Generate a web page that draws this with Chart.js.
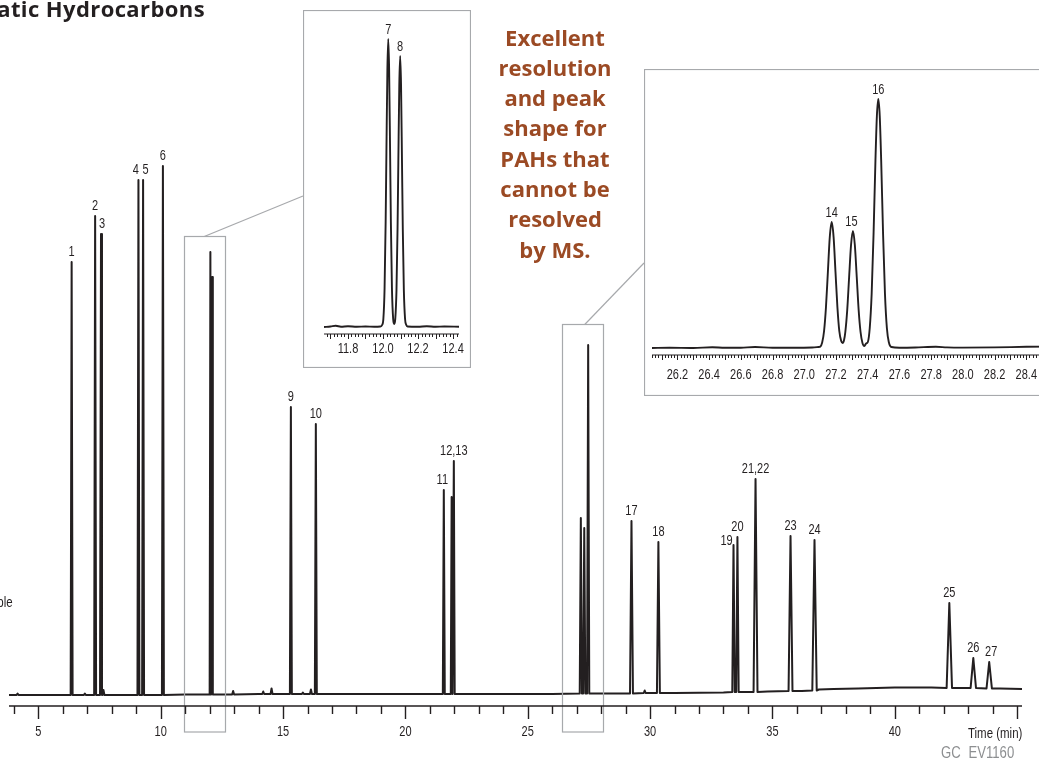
<!DOCTYPE html>
<html>
<head>
<meta charset="utf-8">
<script src="https://cdn.jsdelivr.net/npm/chart.js@4.4.0/dist/chart.umd.min.js"></script>
<style>
  html, body { margin: 0; padding: 0; background: #fff; overflow: hidden; }
  #wrap { position: relative; width: 1039px; height: 760px; overflow: hidden; }
  canvas { position: absolute; }
  #main { left: 0; top: 0; }
  #inset1 { left: 303px; top: 10px; }
  #inset2 { left: 644px; top: 69px; }
  .txt { position: absolute; white-space: nowrap; color: #231f20; }
  .narrow { font-family: "Liberation Sans", Arial, sans-serif; transform: scaleX(0.82); transform-origin: right center; }
  #title { right: 834px; top: -3px; font: 700 22px/22px "Open Sans", sans-serif; letter-spacing: 0.4px; }
  #note { left: 475px; width: 160px; top: 21.5px; text-align: center; color: #9b4a24;
          font: 700 22px/30.3px "Open Sans", sans-serif; white-space: normal; }
  #ple { right: 1026px; top: 594px; font-size: 14px; line-height: 16px; }
  #timeLabel { right: 17px; top: 725px; font-size: 14px; line-height: 16px; }
  #gc { right: 25px; top: 744px; font-size: 16px; line-height: 18px; color: #8d8f91; word-spacing: 5px; }
</style>
</head>
<body>
<div id="wrap">
  <canvas id="main" width="1039" height="760"></canvas>
  <canvas id="inset1" width="168" height="358"></canvas>
  <canvas id="inset2" width="420" height="327"></canvas>
  <div id="title" class="txt">atic Hydrocarbons</div>
  <div id="note" class="txt">Excellent<br>resolution<br>and peak<br>shape for<br>PAHs that<br>cannot be<br>resolved<br>by MS.</div>
  <div id="ple" class="txt narrow">ple</div>
  <div id="timeLabel" class="txt narrow">Time (min)</div>
  <div id="gc" class="txt narrow">GC EV1160</div>
</div>
<script>
// ---- main chromatogram: peaks (retention time in min, apex / local baseline in detector units)
const peakIds = ['1', '2', '3', '4', '5', '6', '7', '8', '9', '10', '11', '12', '13', '14', '15', '16',
                 '17', '18', '19', '20', '21,22', '23', '24', '25', '26', '27'];
const peakTimes = [6.36, 7.32, 7.56, 9.09, 9.28, 10.09, 12.03, 12.10, 15.32, 16.34, 21.57, 21.89, 21.98,
                   27.17, 27.31, 27.47, 29.24, 30.34, 33.41, 33.57, 34.31, 35.74, 36.72, 42.23, 43.21, 43.86];
const peakApex = [432, 478, 460, 514, 514, 528, 442, 417, 287, 270, 204, 197, 233,
                  176, 166, 349, 173, 152, 149, 157, 215, 158, 154, 91, 36, 32];
const peakBase = [-1, -1, -1, -1, -1, -1, -0.5, -0.5, 0, 0, 0, 0, 0,
                  0.5, 0.5, 0.5, 0.5, 1, 2, 2, 2, 3, 3.5, 6, 6, 5.5];
const peakHalfWidth = [0.04, 0.04, 0.04, 0.04, 0.04, 0.04, 0.03, 0.03, 0.04, 0.04, 0.04, 0.035, 0.035,
                       0.045, 0.045, 0.045, 0.06, 0.06, 0.05, 0.05, 0.08, 0.08, 0.09, 0.11, 0.11, 0.11];

// small unlabelled bumps
const minorTimes = [4.15, 6.9, 7.66, 12.96, 14.19, 14.53, 15.81, 16.14, 29.78];
const minorApex = [0.5, 0.5, 4, 3, 2.5, 5.5, 1.5, 4.5, 3.5];
const minorBase = [-1, -1, -1, -0.5, 0, 0, 0, 0, 1];
const minorHalfWidth = 0.04;

// baseline drift
const baselineTimes = [3.8, 5, 8, 11, 14, 18, 20, 24, 26, 28.5, 31, 33, 34.8, 36.2, 36.9, 37.5, 38.5, 40, 41.5, 42.6, 44.3, 45.2];
const baselineValues = [-1, -1, -1, -0.5, 0, 0, 0, 0, 0, 0.5, 1, 1.5, 2.5, 3, 4.5, 5, 5.5, 6.5, 6.5, 6, 5.5, 5];

const mainLabels = ['1', '2', '3', '4', '5', '6', '9', '10', '11', '12,13', '17', '18', '19', '20',
                    '21,22', '23', '24', '25', '26', '27'];
const mainTickLabels = [5, 10, 15, 20, 25, 30, 35, 40];

// zoomed windows marked on the main trace: [from, to] in min, box top in detector units
const zoomWindows = [[10.96, 12.64], [26.38, 28.07]];
const zoomTops = [458, 370];
const zoomLinks = [11.78, 27.33];

// ---- inset 1 (peaks 7, 8)
const inset1Times = [11.663, 11.70, 11.73, 11.76, 11.80, 11.85, 11.90, 11.95, 11.985, 11.995, 12.002, 12.009,
                     12.015, 12.0195, 12.025, 12.03, 12.035, 12.0405, 12.045, 12.051, 12.058, 12.064, 12.07,
                     12.077, 12.083, 12.0875, 12.093, 12.098, 12.103, 12.1085, 12.113, 12.119, 12.126, 12.133,
                     12.14, 12.2, 12.25, 12.3, 12.35, 12.434];
const inset1Values = [0, 0.5, 1.2, 0.3, 0.8, 0.2, 0.5, 0.3, 0.5, 2, 8, 39,
                      104, 175, 257, 288, 257, 175, 104, 39, 8, 3, 8,
                      37, 98, 164, 242, 271, 242, 164, 98, 37, 8, 2,
                      0.5, 0.3, 0.8, 0.3, 0.5, 0.3];
const inset1PeakIds = ['7', '8'];
const inset1PeakTimes = [12.03, 12.098];
const inset1PeakApex = [288, 271];
const inset1TickLabels = ['11.8', '12.0', '12.2', '12.4'];

// ---- inset 2 (peaks 14, 15, 16)
const inset2Times = [26.04, 26.15, 26.3, 26.42, 26.5, 26.6, 26.69, 26.8, 26.95, 27.05, 27.09, 27.101,
                     27.113, 27.125, 27.137, 27.149, 27.161, 27.173, 27.185, 27.197, 27.209, 27.221, 27.233,
                     27.242, 27.251, 27.259, 27.271, 27.283, 27.295, 27.307, 27.319, 27.331, 27.343, 27.355,
                     27.367, 27.379, 27.39, 27.401, 27.413, 27.425, 27.437, 27.449, 27.458, 27.467, 27.476,
                     27.485, 27.497, 27.509, 27.521, 27.533, 27.55, 27.6, 27.7, 27.83, 27.9, 28.0, 28.2, 28.4, 28.6];
const inset2Values = [0, 0.3, 0, 0.8, 0.2, 0.3, 1, 0.2, 0.3, 0.5, 1, 1.4,
                      5.5, 17, 41, 76, 111, 126, 111, 76, 41, 17, 7,
                      5, 8, 16, 38, 71, 103, 117, 103, 71, 38, 16,
                      5, 2, 4.5, 6, 20, 54, 114, 188, 232, 249, 232,
                      188, 114, 54, 20, 6, 1, 0.3, 0.5, 1.2, 0.6, 0.4, 0.6, 1.2, 1.5];
const inset2PeakIds = ['14', '15', '16'];
const inset2PeakTimes = [27.173, 27.307, 27.467];
const inset2PeakApex = [126, 117, 249];
const inset2TickLabels = ['26.2', '26.4', '26.6', '26.8', '27.0', '27.2', '27.4', '27.6', '27.8', '28.0', '28.2', '28.4'];

const INK = '#231f20';
const GREY = '#a7a9ac';
const LABEL_FONT = '14.5px "Liberation Sans", Arial, sans-serif';
const SQUEEZE = 0.76;   // condensed look for the small labels

function narrowText(ctx, text, x, y) {
    ctx.save();
    ctx.translate(x, y);
    ctx.scale(SQUEEZE, 1);
    ctx.font = LABEL_FONT;
    ctx.fillStyle = INK;
    ctx.textAlign = 'center';
    ctx.textBaseline = 'middle';
    ctx.fillText(text, 0, 0);
    ctx.restore();
}

// each peak becomes foot - apex - foot; baseline points inside a peak are dropped
function buildTrace() {
    const feats = [];
    peakTimes.forEach((t, i) => feats.push({ t, h: peakApex[i], b: peakBase[i], w: peakHalfWidth[i] }));
    minorTimes.forEach((t, i) => feats.push({ t, h: minorApex[i], b: minorBase[i], w: minorHalfWidth }));
    const pts = [];
    feats.forEach(f => {
        pts.push({ x: f.t - f.w, y: f.b }, { x: f.t, y: f.h }, { x: f.t + f.w, y: f.b });
    });
    baselineTimes.forEach((t, i) => {
        if (!feats.some(f => Math.abs(t - f.t) <= f.w)) pts.push({ x: t, y: baselineValues[i] });
    });
    pts.sort((a, b) => a.x - b.x);
    return pts;
}

// axis line with minor/major ticks hanging below the chart area, plus the tick labels
const rulerPlugin = {
    id: 'ruler',
    afterDraw(chart, args, o) {
        const { ctx, chartArea: { left, right, bottom }, scales: { x } } = chart;
        ctx.save();
        ctx.strokeStyle = INK;
        ctx.lineWidth = o.lineWidth;
        ctx.beginPath();
        ctx.moveTo(left, bottom);
        ctx.lineTo(right, bottom);
        const k0 = Math.ceil(x.min / o.minor - 1e-6);
        const k1 = Math.floor(x.max / o.minor + 1e-6);
        const ratio = Math.round(o.major / o.minor);
        for (let k = k0; k <= k1; k++) {
            const px = Math.round(x.getPixelForValue(k * o.minor)) + 0.5;
            ctx.moveTo(px, bottom);
            ctx.lineTo(px, bottom + (k % ratio === 0 ? o.majorLen : o.minorLen));
        }
        ctx.stroke();
        ctx.restore();
        x.ticks.forEach(t => {
            const lbl = o.format(t.value);
            if (lbl) narrowText(ctx, lbl, x.getPixelForValue(t.value), bottom + o.labelGap);
        });
    }
};

const peakLabelPlugin = {
    id: 'peakLabels',
    afterDatasetsDraw(chart, args, o) {
        const { ctx, scales: { x, y } } = chart;
        o.labels.forEach(lbl => {
            const i = o.ids.indexOf((o.anchor && o.anchor[lbl]) || lbl);
            const n = (o.nudge && o.nudge[lbl]) || [0, 0];
            narrowText(ctx, lbl, x.getPixelForValue(o.times[i]) + n[0], y.getPixelForValue(o.apex[i]) - o.gap + n[1]);
        });
    }
};

const zoomBoxPlugin = {
    id: 'zoomBoxes',
    afterDatasetsDraw(chart, args, o) {
        const { ctx, chartArea, scales: { x, y } } = chart;
        ctx.save();
        ctx.strokeStyle = GREY;
        ctx.lineWidth = 1.2;
        zoomWindows.forEach((w, i) => {
            const l = Math.round(x.getPixelForValue(w[0])) + 0.5;
            const r = Math.round(x.getPixelForValue(w[1])) + 0.5;
            const t = Math.round(y.getPixelForValue(zoomTops[i])) + 0.5;
            const b = chartArea.bottom + o.drop;
            ctx.strokeRect(l, t, r - l, b - t);
            const el = document.getElementById(o.insets[i]);
            ctx.beginPath();
            ctx.moveTo(x.getPixelForValue(zoomLinks[i]), t);
            ctx.lineTo(el.offsetLeft, el.offsetTop + o.linkY[i]);
            ctx.stroke();
        });
        ctx.restore();
    }
};

const framePlugin = {
    id: 'frame',
    beforeDraw(chart) {
        const { ctx, width, height } = chart;
        ctx.save();
        ctx.fillStyle = '#fff';
        ctx.fillRect(0, 0, width, height);
        ctx.restore();
    },
    afterDraw(chart) {
        const { ctx, width, height } = chart;
        ctx.save();
        ctx.strokeStyle = GREY;
        ctx.lineWidth = 1.2;
        ctx.strokeRect(0.5, 0.5, width - 1, height - 1);
        ctx.restore();
    }
};

new Chart(document.getElementById('main'), {
    type: 'line',
    data: {
        datasets: [{
            data: buildTrace(),
            borderColor: INK,
            borderWidth: 2,
            borderJoinStyle: 'round',
            pointRadius: 0,
            fill: false,
            tension: 0
        }]
    },
    options: {
        responsive: false,
        animation: false,
        events: [],
        layout: { padding: { left: 9, right: 17, top: 0, bottom: 0 } },
        scales: {
            x: {
                type: 'linear',
                min: 3.8,
                max: 45.2,
                afterFit: s => { s.height = 54; s.paddingLeft = 0; s.paddingRight = 0; },
                grid: { display: false, drawTicks: false },
                border: { display: false },
                ticks: { display: false, stepSize: 1, includeBounds: false, autoSkip: false, maxRotation: 0 }
            },
            y: { display: false, min: -12, max: 694 }
        },
        plugins: {
            legend: { display: false },
            tooltip: { enabled: false },
            ruler: {
                minor: 1, major: 5, minorLen: 8, majorLen: 13, lineWidth: 1.4, labelGap: 26,
                format: v => mainTickLabels.includes(v) ? String(v) : ''
            },
            peakLabels: {
                ids: peakIds, times: peakTimes, apex: peakApex, labels: mainLabels, gap: 10.5,
                anchor: { '12,13': '13' },
                nudge: { '3': [1, 0], '4': [-2.5, 0], '5': [2.5, 0], '11': [-1.5, 0], '19': [-7, 6.5], '27': [2, 0] }
            },
            zoomBoxes: { drop: 26, insets: ['inset1', 'inset2'], linkY: [186, 194] }
        }
    },
    plugins: [rulerPlugin, peakLabelPlugin, zoomBoxPlugin]
});

function makeInset(id, cfg) {
    return new Chart(document.getElementById(id), {
        type: 'line',
        data: {
            datasets: [{
                data: cfg.times.map((t, i) => ({ x: t, y: cfg.values[i] })),
                borderColor: INK,
                borderWidth: 1.9,
                pointRadius: 0,
                fill: false,
                cubicInterpolationMode: 'monotone'
            }]
        },
        options: {
            responsive: false,
            animation: false,
            events: [],
            layout: { padding: cfg.padding },
            scales: {
                x: {
                    type: 'linear',
                    min: cfg.min,
                    max: cfg.max,
                    afterFit: s => { s.height = cfg.axisHeight; s.paddingLeft = 0; s.paddingRight = 0; },
                    grid: { display: false, drawTicks: false },
                    border: { display: false },
                    ticks: { display: false, stepSize: 0.2, includeBounds: false, autoSkip: false, maxRotation: 0 }
                },
                y: { display: false, min: cfg.ymin, max: cfg.ymax }
            },
            plugins: {
                legend: { display: false },
                tooltip: { enabled: false },
                ruler: {
                    minor: 0.02, major: 0.1, minorLen: 3, majorLen: 5, lineWidth: 1, labelGap: cfg.labelGap,
                    format: v => cfg.tickLabels.includes(v.toFixed(1)) ? v.toFixed(1) : ''
                },
                peakLabels: { ids: cfg.ids, times: cfg.peakTimes, apex: cfg.peakApex, labels: cfg.ids, gap: 9, nudge: cfg.nudge }
            }
        },
        plugins: [framePlugin, rulerPlugin, peakLabelPlugin]
    });
}

makeInset('inset1', {
    times: inset1Times, values: inset1Values,
    ids: inset1PeakIds, peakTimes: inset1PeakTimes, peakApex: inset1PeakApex,
    tickLabels: inset1TickLabels,
    min: 11.663, max: 12.434, ymin: -7, ymax: 307,
    padding: { left: 21, right: 12, top: 10, bottom: 0 },
    axisHeight: 34, labelGap: 15
});

makeInset('inset2', {
    times: inset2Times, values: inset2Values,
    ids: inset2PeakIds, peakTimes: inset2PeakTimes, peakApex: inset2PeakApex,
    tickLabels: inset2TickLabels,
    min: 26.04, max: 28.6, ymin: -7, ymax: 269,
    padding: { left: 8, right: 6, top: 10, bottom: 0 },
    axisHeight: 41, labelGap: 20,
    nudge: { '15': [-1.5, 0] }
});
</script>
</body>
</html>
